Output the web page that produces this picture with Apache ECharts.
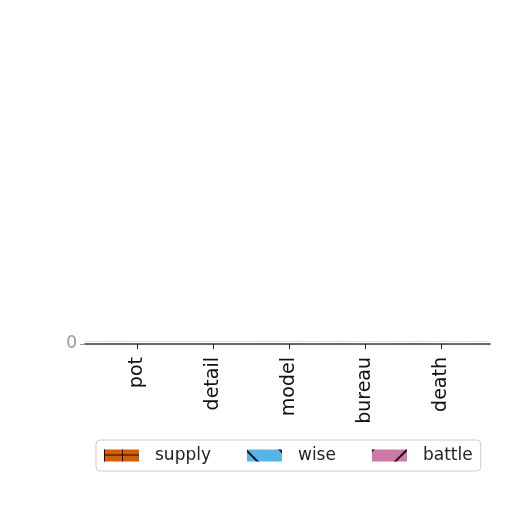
<!DOCTYPE html>
<html>
<head>
<meta charset="utf-8">
<script src="https://cdn.jsdelivr.net/npm/echarts@6/dist/echarts.min.js"></script>
<style>
  html, body { margin: 0; padding: 0; background: #fff; }
  #chart { width: 512px; height: 512px; }
</style>
</head>
<body>
<div id="chart"></div>
<script>
'use strict';

// data (bars are almost flat at zero)
const categories = ['pot', 'detail', 'model', 'bureau', 'death'];
const supply = [0.2, 0.1, 0.3, 0.5, 0.4];
const wise = [0.1, 0.2, 0.2, 0.4, 0.3];
const battle = [0.3, 0.1, 0.4, 0.6, 0.5];
const yTicks = [0];

(function () {
  const chartEl = document.querySelector('#chart');
  const chart = echarts.init(chartEl, null, { renderer: 'canvas' });

  const font = 'DejaVu Sans';

  // single diagonal hatch, wide spacing
  const diag = function (rot) {
    return {
      color: 'rgba(0,0,0,0.9)',
      symbol: 'rect',
      symbolSize: 1,
      dashArrayX: [1, 0],
      dashArrayY: [1.5, 22],
      rotation: rot
    };
  };

  // '+' grid hatch built from rows of dashes (solid row in the middle)
  const rowsX = [];
  for (let i = 0; i < 12; i++) rowsX.push(i === 6 ? [1, 0] : [1, 17]);
  const cross = {
    color: 'rgba(0,0,0,0.9)',
    symbol: 'rect',
    symbolSize: 1,
    dashArrayX: rowsX,
    dashArrayY: [1, 0]
  };

  const option = {
    animation: false,
    textStyle: { fontFamily: font },
    legend: {
      top: 440,
      left: 96,
      width: 384,
      icon: 'rect',
      itemWidth: 35,
      itemHeight: 12,
      itemGap: 36,
      padding: [7, 8, 7, 8],
      borderColor: '#ccc',
      borderWidth: 1,
      borderRadius: 4,
      textStyle: { fontFamily: font, fontSize: 17, color: '#222', padding: [0, 0, 0, 11] },
      data: ['supply', 'wise', 'battle']
    },
    grid: [
      { left: 99, right: 33, top: 341, bottom: 168 },
      { left: 85, right: 22, top: 341, bottom: 168 }
    ],
    xAxis: [
      {
        type: 'category',
        gridIndex: 0,
        data: categories,
        axisLine: { show: false },
        axisTick: { show: true, alignWithLabel: true, length: 5, lineStyle: { color: '#222' } },
        axisLabel: {
          rotate: 90,
          fontFamily: font,
          fontSize: 19,
          color: '#111',
          margin: 13
        }
      },
      {
        type: 'value',
        gridIndex: 1,
        min: 0,
        max: 1,
        axisLine: { show: true, lineStyle: { color: '#333', width: 1.5 } },
        axisTick: { show: false },
        axisLabel: { show: false },
        splitLine: { show: false }
      },
      {
        type: 'value',
        gridIndex: 1,
        position: 'top',
        min: 0,
        max: 1,
        axisLine: { show: true, lineStyle: { color: '#ddd', width: 1 } },
        axisTick: { show: false },
        axisLabel: { show: false },
        splitLine: { show: false }
      }
    ],
    yAxis: [
      {
        type: 'value',
        gridIndex: 0,
        min: 0,
        max: 10,
        axisLine: { show: false },
        axisTick: { show: false },
        axisLabel: { show: false },
        splitLine: { show: false }
      },
      {
        type: 'value',
        gridIndex: 1,
        min: 0,
        max: 10,
        interval: 10,
        axisLine: { show: false },
        axisTick: { show: true, length: 5, lineStyle: { color: '#999' } },
        axisLabel: {
          showMaxLabel: false,
          fontFamily: font,
          fontSize: 17,
          color: '#999',
          margin: 8,
          formatter: function (v) { return yTicks.indexOf(v) >= 0 ? String(v) : ''; }
        },
        splitLine: { show: false }
      }
    ],
    series: [
      {
        name: 'supply',
        type: 'bar',
        xAxisIndex: 0,
        yAxisIndex: 0,
        data: supply,
        barGap: '0%',
        barCategoryGap: '20%',
        itemStyle: { color: '#D55E00', decal: cross }
      },
      {
        name: 'wise',
        type: 'bar',
        xAxisIndex: 0,
        yAxisIndex: 0,
        data: wise,
        itemStyle: { color: '#56B4E9', decal: diag(Math.PI / 4) }
      },
      {
        name: 'battle',
        type: 'bar',
        xAxisIndex: 0,
        yAxisIndex: 0,
        data: battle,
        itemStyle: { color: '#CC79A7', decal: diag(-Math.PI / 4) }
      }
    ]
  };

  chart.setOption(option);
})();
</script>
</body>
</html>
